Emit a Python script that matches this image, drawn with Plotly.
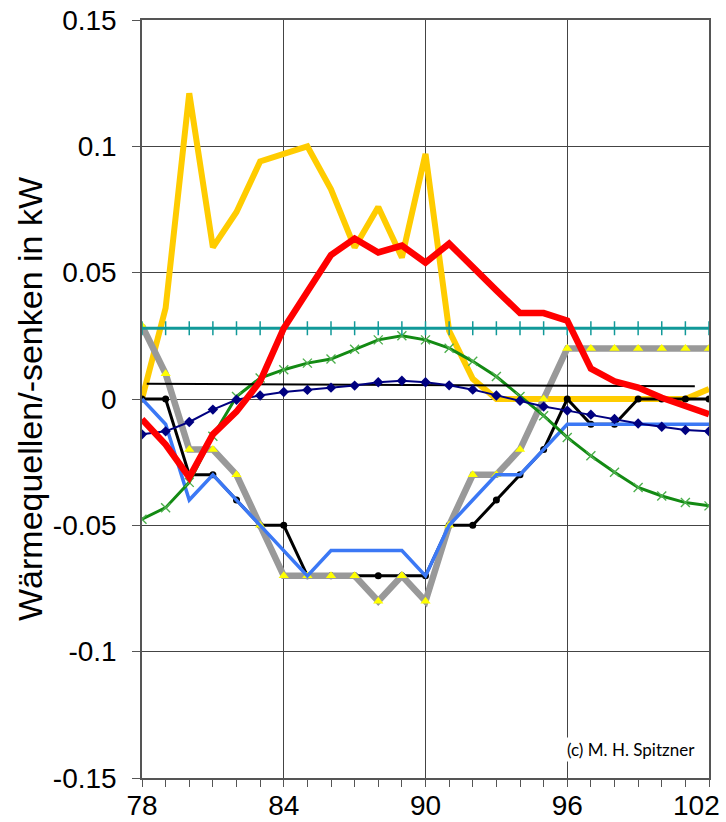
import plotly.graph_objects as go

x = list(range(78, 103))

yellow = [0.0, 0.036, 0.121, 0.060, 0.074, 0.094, 0.097, 0.100, 0.083, 0.060, 0.076, 0.056,
          0.097, 0.027, 0.008, 0.0, 0.0, 0.0, 0.0, 0.0, 0.0, 0.0, 0.0, 0.0, 0.004]
red = [-0.008, -0.018, -0.031, -0.014, -0.005, 0.007, 0.028, 0.043, 0.057, 0.0635, 0.058, 0.0607,
       0.054, 0.0615, 0.052, 0.043, 0.034, 0.034, 0.031, 0.012, 0.007, 0.0045, 0.0005, -0.003, -0.006]
teal = [0.028] * 25
gray = [0.029, 0.01, -0.02, -0.02, -0.03, -0.05, -0.07, -0.07, -0.07, -0.07, -0.08, -0.07,
        -0.08, -0.05, -0.03, -0.03, -0.02, 0.0, 0.02, 0.02, 0.02, 0.02, 0.02, 0.02, 0.02]
black = [0.0, 0.0, -0.03, -0.03, -0.04, -0.05, -0.05, -0.07, -0.07, -0.07, -0.07, -0.07,
         -0.07, -0.05, -0.05, -0.04, -0.03, -0.02, 0.0, -0.01, -0.01, 0.0, 0.0, 0.0, 0.0]
blue = [0.0, -0.01, -0.04, -0.03, -0.04, -0.05, -0.06, -0.07, -0.06, -0.06, -0.06, -0.06,
        -0.07, -0.05, -0.04, -0.03, -0.03, -0.02, -0.01, -0.01, -0.01, -0.01, -0.01, -0.01, -0.01]
navy = [-0.014, -0.0128, -0.0091, -0.0042, -0.0003, 0.0014, 0.0028, 0.0036, 0.0045, 0.0053, 0.0066, 0.0072,
        0.0066, 0.0054, 0.0037, 0.0014, -0.0007, -0.003, -0.0046, -0.0062, -0.0079, -0.0097, -0.011, -0.0123, -0.0128]
green = [-0.0476, -0.043, -0.033, -0.0147, 0.001, 0.0083, 0.0116, 0.0142, 0.0158, 0.0197, 0.0234, 0.025,
         0.0234, 0.0201, 0.0149, 0.0089, 0.001, -0.0066, -0.0152, -0.0225, -0.029, -0.035, -0.0384, -0.041, -0.0423]
trend_x = [78.2, 101.4]
trend_y = [0.006, 0.005]

y_ticks = [-0.15, -0.1, -0.05, 0, 0.05, 0.1, 0.15]
y_ticktext = ["-0.15", "-0.1", "-0.05", "0", "0.05", "0.1", "0.15"]
x_ticks = [78, 84, 90, 96, 102]
x_ticktext = ["78", "84", "90", "96", "102"]

fig = go.Figure()

fig.add_trace(go.Scatter(x=x, y=yellow, mode="lines", line=dict(color="#FFCC00", width=6)))
fig.add_trace(go.Scatter(x=x, y=black, mode="lines+markers", line=dict(color="#000000", width=3),
                         marker=dict(symbol="circle", size=7, color="#000000")))
fig.add_trace(go.Scatter(x=x, y=gray, mode="lines+markers", line=dict(color="#999999", width=6.5),
                         marker=dict(symbol="triangle-up", size=9, color="#FFFF00")))
fig.add_trace(go.Scatter(x=x, y=blue, mode="lines", line=dict(color="#3B78F5", width=3.5)))
fig.add_trace(go.Scatter(x=x, y=green, mode="lines+markers", line=dict(color="#138A13", width=3),
                         marker=dict(symbol="x-thin", size=9, line=dict(color="#4CAF4C", width=1.4))))
fig.add_trace(go.Scatter(x=trend_x, y=trend_y, mode="lines", line=dict(color="#000000", width=2)))
fig.add_trace(go.Scatter(x=x, y=navy, mode="lines+markers", line=dict(color="#000080", width=2),
                         marker=dict(symbol="diamond", size=8, color="#000080")))
fig.add_trace(go.Scatter(x=x, y=teal, mode="lines+markers", line=dict(color="#119999", width=3),
                         marker=dict(symbol="line-ns", size=10, line=dict(color="#119999", width=1.5))))
fig.add_trace(go.Scatter(x=x, y=red, mode="lines", line=dict(color="#FF0000", width=6.5)))

fig.add_annotation(x=101.5, y=-0.1386, xref="x", yref="y", text="(c) M. H. Spitzner",
                   showarrow=False, xanchor="right", yanchor="middle",
                   font=dict(family="Lato", size=17, color="#000000"),
                   bgcolor="#FFFFFF")

# last x tick label is pulled inside the figure, as in the original
fig.add_annotation(x=x_ticks[-1], y=0, xref="x", yref="paper", text=x_ticktext[-1],
                   showarrow=False, xanchor="right", yanchor="top", xshift=13, yshift=-10,
                   font=dict(family="Liberation Sans, Arial", size=28, color="#000000"))

fig.update_layout(
    width=726, height=822,
    margin=dict(l=142, r=17, t=20, b=44),
    paper_bgcolor="white", plot_bgcolor="white",
    showlegend=False,
    font=dict(family="Liberation Sans, Arial", size=28, color="#000000"),
)
fig.update_xaxes(range=[78, 102], tickvals=x_ticks, ticktext=x_ticktext[:-1] + [""],
                 automargin=False, ticklabelstandoff=-5,
                 showgrid=True, gridcolor="#444444", gridwidth=1,
                 zeroline=False, showline=True, linecolor="#555555", linewidth=1.5, mirror=True,
                 ticks="outside", ticklen=7, tickcolor="#555555",
                 minor=dict(dtick=1, ticks="outside", ticklen=7, tickcolor="#555555", showgrid=False),
                 tickfont=dict(size=28))
fig.update_yaxes(range=[-0.15, 0.15], tickvals=y_ticks, ticktext=y_ticktext, showgrid=True,
                 automargin=False, ticklabelstandoff=10,
                 gridcolor="#444444", gridwidth=1, zeroline=False, showline=True, linecolor="#555555",
                 linewidth=1.5, mirror=True, ticks="outside", ticklen=8, tickcolor="#555555",
                 title=dict(text="Wärmequellen/-senken in kW", font=dict(size=34), standoff=0),
                 tickfont=dict(size=28))

fig.write_html("out.html", config={"displayModeBar": False},
               post_script="document.body.style.margin='0';")
